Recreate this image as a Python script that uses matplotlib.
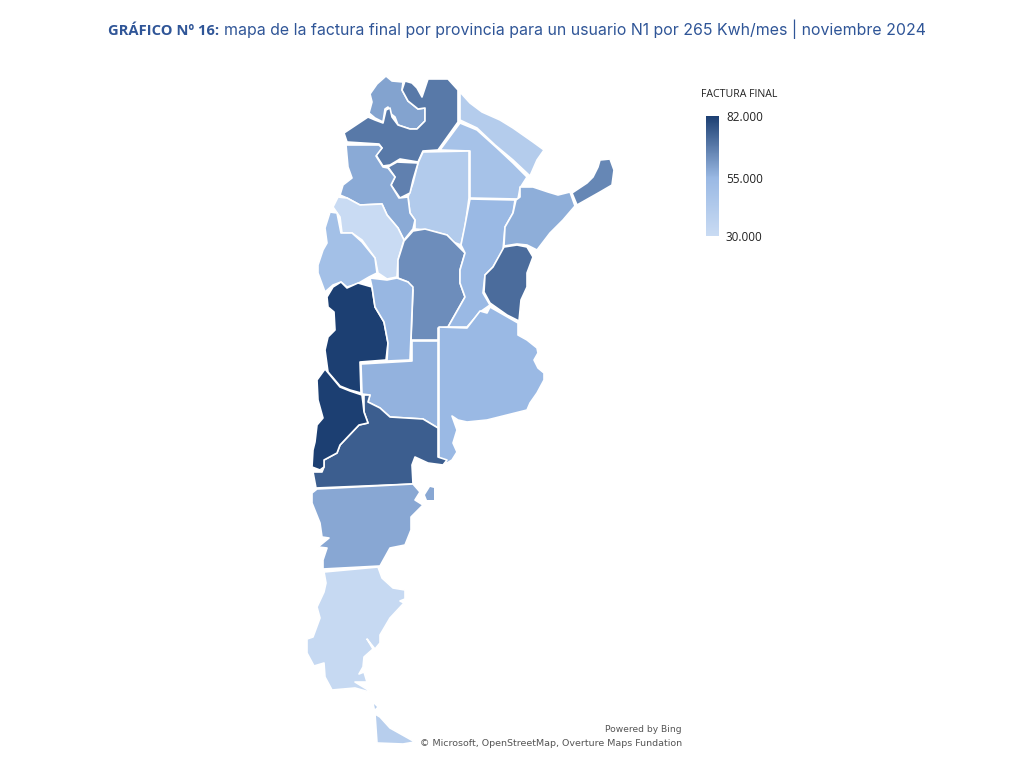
#!/usr/bin/env python3
"""
Mapa de la factura final por provincia (usuario N1, 265 Kwh/mes, noviembre 2024)
"""

import matplotlib
matplotlib.use('Agg')
import matplotlib.pyplot as plt
from matplotlib.colors import LinearSegmentedColormap, Normalize
from matplotlib.cm import ScalarMappable

# factura final estimada por provincia
provincias = ['Jujuy', 'Salta', 'Formosa', 'Chaco', 'Santiago del Estero', 'Tucuman',
              'Catamarca', 'La Rioja', 'San Juan', 'Cordoba', 'Santa Fe', 'Corrientes',
              'Misiones', 'Entre Rios', 'Mendoza', 'San Luis', 'La Pampa', 'Buenos Aires',
              'Rio Negro', 'Neuquen', 'Chubut', 'Santa Cruz', 'Tierra del Fuego']
factura = [60000, 69000, 41000, 48600, 42000, 67400,
           58400, 30000, 50000, 64600, 55000, 57600,
           66000, 72000, 82000, 55500, 56500, 55000,
           75000, 82000, 59000, 31500, 39500]

contornos = {
    'Jujuy': [(369,113),(372,102),(370,94),(377,84),(386,76),(392,81),(403,82),(402,90),(408,101),
              (418,109),(425,108),(425,121),(417,129),(410,129),(398,125),(395,117),(390,113),
              (388,107),(385,109),(383,122),(375,118)],
    'Salta': [(405,81),(412,83),(417,88),(422,97),(428,79),(448,79),(458,90),(458,122),(438,150),
              (423,151),(418,162),(400,159),(390,165),(383,166),(376,155),(382,148),(379,144),
              (347,142),(344,133),(368,117),(375,120),(383,123),(386,110),(390,108),(392,117),
              (398,125),(410,129),(417,129),(425,121),(425,108),(418,109),(408,101),(402,90)],
    'Formosa': [(460,92),(470,103),(482,112),(500,120),(513,128),(533,142),(544,150),(537,160),
                (530,176),(513,160),(495,145),(477,128),(460,120)],
    'Chaco': [(460,123),(477,130),(497,148),(513,163),(527,177),(520,188),(518,199),(470,198),
              (470,151),(440,150)],
    'Santiago del Estero': [(423,152),(469,151),(469,198),(465,227),(461,245),(453,242),(447,235),
                            (427,230),(415,229),(415,220),(410,213),(408,197),(413,183),(418,163)],
    'Tucuman': [(388,167),(397,162),(418,163),(413,180),(410,193),(400,198),(391,185),(395,177)],
    'Catamarca': [(346,145),(379,145),(382,148),(376,156),(383,167),(388,168),(395,177),(391,185),
                  (399,198),(408,197),(410,213),(415,220),(413,229),(404,240),(398,228),(387,215),
                  (382,204),(360,205),(347,198),(340,195),(343,185),(352,178),(348,167)],
    'La Rioja': [(333,207),(338,197),(347,198),(360,205),(382,204),(387,215),(398,228),(404,240),
                 (398,260),(397,277),(387,279),(378,273),(375,258),(362,240),(352,233),(342,233),
                 (340,217)],
    'San Juan': [(330,212),(337,213),(341,233),(352,233),(362,242),(375,258),(377,273),(369,277),
                 (357,284),(347,287),(341,282),(333,285),(325,292),(318,273),(318,265),(323,250),
                 (327,243),(325,228)],
    'Cordoba': [(404,241),(413,231),(425,229),(447,235),(457,245),(465,253),(460,270),(460,283),
                (465,297),(448,327),(438,328),(438,340),(411,340),(413,290),(408,282),(398,278),
                (398,260)],
    'Santa Fe': [(470,199),(515,200),(513,213),(505,227),(503,250),(493,267),(485,275),(483,293),
                 (490,305),(480,312),(467,327),(448,327),(465,297),(460,283),(460,270),(465,253),
                 (461,245),(465,225)],
    'Corrientes': [(520,187),(533,187),(548,192),(558,195),(570,192),(575,206),(563,220),(550,233),
                   (537,250),(527,245),(517,244),(504,246),(505,227),(513,213),(516,200),(520,197)],
    'Misiones': [(572,193),(587,183),(593,177),(598,167),(600,160),(610,159),(614,170),(612,185),
                 (600,192),(577,205)],
    'Entre Rios': [(504,247),(517,245),(527,247),(533,257),(527,273),(527,287),(521,300),(519,321),
                   (507,315),(490,303),(484,292),(485,275),(493,267)],
    'Mendoza': [(327,297),(333,287),(341,282),(347,288),(358,283),(372,287),(375,307),(384,322),
                (388,343),(386,360),(360,362),(361,393),(350,390),(340,386),(328,372),(325,350),
                (328,337),(335,330),(334,312),(328,307)],
    'San Luis': [(370,278),(387,280),(397,278),(408,282),(413,287),(410,360),(387,361),(388,343),
                 (384,322),(375,307),(372,287)],
    'La Pampa': [(361,364),(412,361),(412,341),(438,341),(438,428),(423,419),(390,417),(380,408),
                 (368,402),(370,395),(362,394)],
    'Buenos Aires': [(439,327),(467,328),(480,311),(487,313),(490,307),(518,323),(518,335),(527,340),
                     (537,348),(538,353),(534,360),(538,368),(544,373),(544,380),(537,393),(530,403),
                     (527,410),(507,415),(487,420),(467,422),(458,420),(452,416),(457,430),(453,443),
                     (457,452),(452,460),(447,463),(439,458)],
    'Rio Negro': [(364,395),(370,395),(368,402),(380,408),(390,417),(423,419),(438,428),(438,457),
                  (447,460),(443,465),(428,463),(415,457),(412,465),(413,484),(316,488),(313,472),
                  (322,472),(324,467),(324,460),(337,453),(340,445),(359,425),(368,423),(364,412)],
    'Neuquen': [(325,369),(340,387),(350,391),(362,395),(363,403),(364,412),(368,423),(359,425),
                (340,445),(337,453),(324,460),(324,467),(320,470),(312,467),(313,450),(315,442),
                (317,425),(323,418),(318,400),(317,380)],
    'Chubut': [(317,489),(413,484),(420,492),(415,500),(423,505),(411,517),(411,530),(405,545),
               (390,548),(380,566),(323,569),(323,560),(327,548),(318,547),(329,538),(322,537),
               (320,523),(312,503),(312,493)],
    'Santa Cruz': [(324,572),(378,567),(382,578),(393,588),(405,590),(405,599),(400,601),(404,603),
                   (390,618),(380,635),(380,643),(375,649),(367,639),(373,649),(364,657),(363,667),
                   (359,674),(364,672),(367,682),(355,682),(373,693),(355,688),(332,690),(325,677),
                   (324,663),(314,666),(307,653),(307,639),(313,637),(320,618),(317,607),(324,592),
                   (326,583)],
    'Tierra del Fuego': [(375,714),(380,717),(390,728),(415,742),(403,744),(377,743)],
}
# piezas sueltas sin borde: (provincia, contorno)
piezas = [('Chubut', [(425,495),(430,487),(434,488),(434,500),(427,500)]),
          ('Tierra del Fuego', [(374,704),(377,707),(375,709)])]

escala_ticks = [30000, 55000, 82000]
colores = ['#c9dbf3', '#9ab9e4', '#1c3f72']


def main():
    fig = plt.figure(figsize=(10.24, 7.84), dpi=100)
    ax = fig.add_axes([0, 0, 1, 1])
    ax.set_xlim(0, 1024)
    ax.set_ylim(784, 0)
    ax.axis('off')

    vmin, vmax = escala_ticks[0], escala_ticks[-1]
    pos_medio = (escala_ticks[1] - vmin) / (vmax - vmin)
    cmap = LinearSegmentedColormap.from_list(
        'factura', [(0, colores[0]), (pos_medio, colores[1]), (1, colores[2])])
    norm = Normalize(vmin, vmax)

    for nombre, valor in zip(provincias, factura):
        xs, ys = zip(*contornos[nombre])
        ax.fill(xs, ys, facecolor=cmap(norm(valor)), edgecolor='white', linewidth=1.2,
                joinstyle='round')
    for nombre, contorno in piezas:
        xs, ys = zip(*contorno)
        ax.fill(xs, ys, facecolor=cmap(norm(factura[provincias.index(nombre)])), edgecolor='none')

    # titulo en dos partes
    azul = '#2f5597'
    t1 = ax.text(108, 35, 'GRÁFICO Nº 16:', family='Open Sans', fontsize=10.6, fontweight='bold',
                 color=azul, va='baseline')
    fig.canvas.draw()
    fin = t1.get_window_extent().x1
    ax.text(fin + 5, 35, 'mapa de la factura final por provincia para un usuario N1 por 265 Kwh/mes | noviembre 2024',
            family='Inter', fontsize=11.44, color=azul, va='baseline')

    # leyenda
    cax = fig.add_axes([706 / 1024, 1 - 236 / 784, 13 / 1024, 120 / 784])
    cb = fig.colorbar(ScalarMappable(norm=norm, cmap=cmap), cax=cax, ticks=escala_ticks)
    cb.outline.set_visible(False)
    cb.ax.set_yticklabels([f'{v:,}'.replace(',', '.') for v in escala_ticks],
                          family='Open Sans', fontsize=8.5, color='#222222')
    cb.ax.tick_params(length=0, pad=5)
    ax.text(739, 94, 'FACTURA FINAL', family='Open Sans', fontsize=7.6, color='#222222',
            ha='center', va='center')

    # creditos
    ax.text(682, 729, 'Powered by Bing', family='DejaVu Sans', fontsize=6.6, color='#555555',
            ha='right', va='center')
    ax.text(682, 743, '© Microsoft, OpenStreetMap, Overture Maps Fundation', family='DejaVu Sans',
            fontsize=6.8, color='#555555', ha='right', va='center')

    plt.savefig('out.png', dpi=100)


if __name__ == "__main__":
    main()
